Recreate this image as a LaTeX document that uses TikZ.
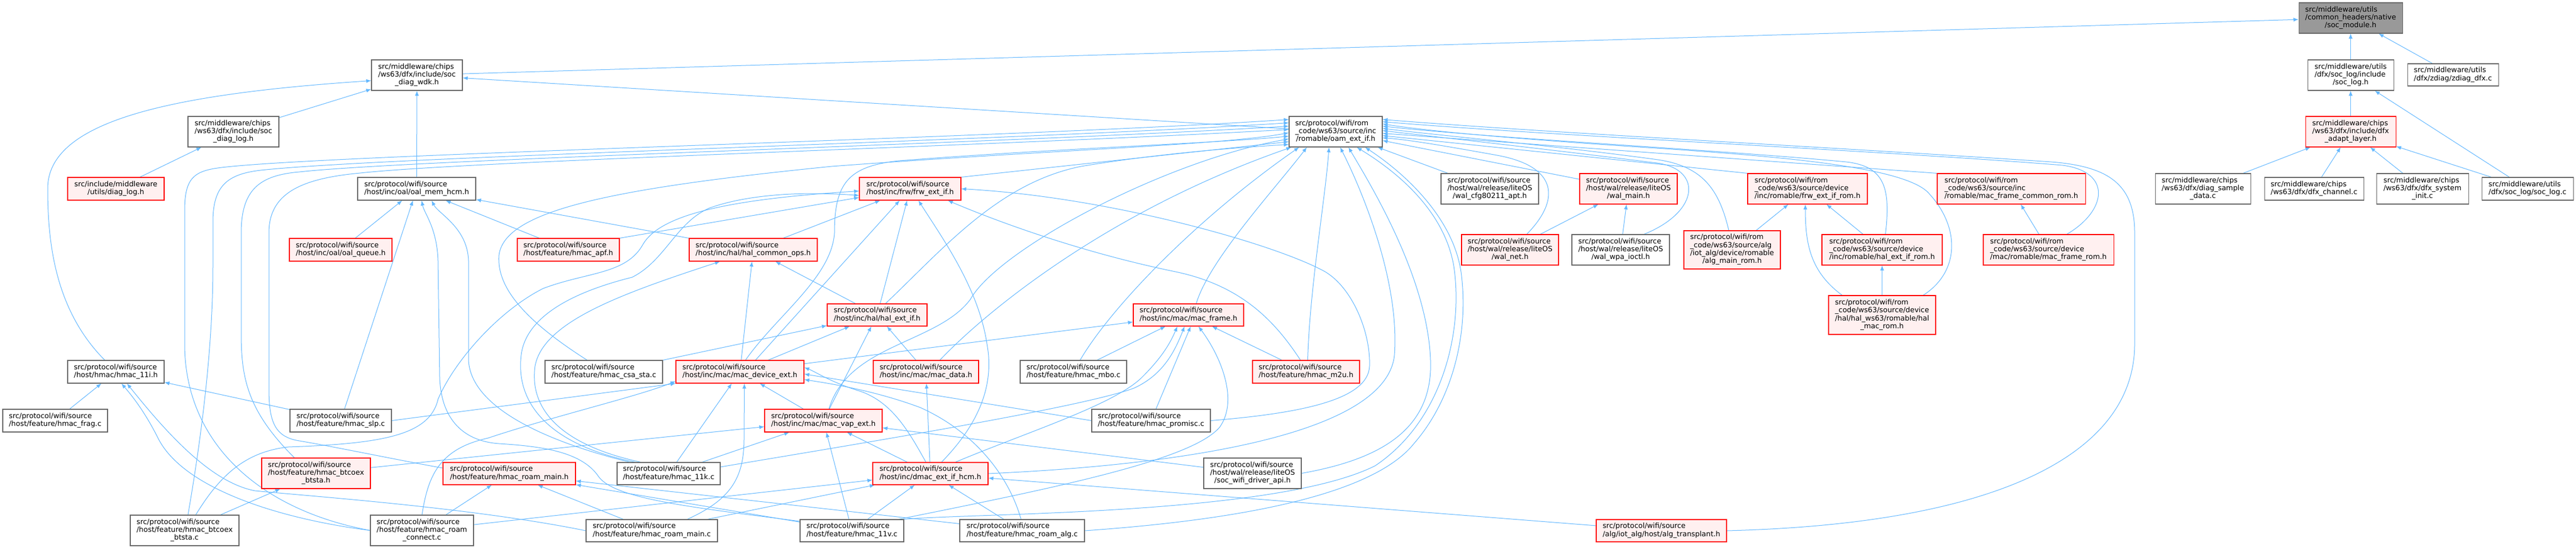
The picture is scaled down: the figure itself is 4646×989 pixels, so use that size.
\documentclass[tikz,border=0pt]{standalone}
\usepackage{fontspec}
\setmainfont{DejaVu Sans}
\usetikzlibrary{arrows.meta,backgrounds}
\definecolor{eblue}{HTML}{63B8FF}
\definecolor{ngray}{HTML}{666666}
\definecolor{pinkf}{HTML}{FFF0F0}
\definecolor{rootg}{HTML}{999999}
\newcommand{\dxf}{\fontsize{12.9pt}{14.3pt}\selectfont}
\newcommand{\NLab}[2]{\begin{tabular}{@{}l@{}}#1\\\multicolumn{1}{@{}c@{}}{#2}\end{tabular}}
\newcommand{\WS}{src/protocol/wifi/source}
\newcommand{\WR}{src/protocol/wifi/rom}
\tikzset{
  nd/.style={draw=ngray, fill=white, line width=1.1pt, inner sep=0pt, font=\dxf},
  rd/.style={nd, draw=red, fill=pinkf},
  rt/.style={nd, fill=rootg},
  wh/.style 2 args={minimum width=#1pt, minimum height=#2pt},
  edg/.style={draw=eblue, line width=1pt, -{Latex[length=9pt,width=7pt]}},
}
\begin{document}
\begin{tikzpicture}[x=1pt,y=-1pt]
\useasboundingbox (0,0) rectangle (4646,989);
% ---------------- nodes ----------------
\node[rt, wh={187}{55}] (root) at (4239.5,32.5) {\NLab{src/middleware/utils\\/common\_headers/native}{/soc\_module.h}};
\node[nd, wh={164}{55}] (wdk) at (752,135.5) {\NLab{src/middleware/chips\\/ws63/dfx/include/soc}{\_diag\_wdk.h}};
\node[nd, wh={155}{55}] (soclogh) at (4239.5,135.5) {\NLab{src/middleware/utils\\/dfx/soc\_log/include}{/soc\_log.h}};
\node[nd, wh={164}{40}] (zdiag) at (4424,135) {\NLab{src/middleware/utils}{/dfx/zdiag/zdiag\_dfx.c}};
\node[nd, wh={164}{55}] (diaglogsoc) at (421,237.5) {\NLab{src/middleware/chips\\/ws63/dfx/include/soc}{\_diag\_log.h}};
\node[nd, wh={168}{55}] (oam) at (2409,237.5) {\NLab{\WR\\\_code/ws63/source/inc}{/romable/oam\_ext\_if.h}};
\node[rd, wh={163}{55}] (dfxadapt) at (4239.5,237.5) {\NLab{src/middleware/chips\\/ws63/dfx/include/dfx}{\_adapt\_layer.h}};
\node[rd, wh={174}{41}] (diaglog) at (209,340.5) {\NLab{src/include/middleware}{/utils/diag\_log.h}};
\node[nd, wh={213}{41}] (oalmem) at (751.5,340.5) {\NLab{\WS}{/host/inc/oal/oal\_mem\_hcm.h}};
\node[rd, wh={183}{41}] (frw) at (1641.5,340.5) {\NLab{\WS}{/host/inc/frw/frw\_ext\_if.h}};
\node[nd, wh={176}{55}] (walcfg) at (2687,340.5) {\NLab{\WS\\/host/wal/release/liteOS}{/wal\_cfg80211\_apt.h}};
\node[rd, wh={176}{55}] (walmain) at (2937,340.5) {\NLab{\WS\\/host/wal/release/liteOS}{/wal\_main.h}};
\node[rd, wh={216}{55}] (frwrom) at (3260,340.5) {\NLab{\WR\\\_code/ws63/source/device}{/inc/romable/frw\_ext\_if\_rom.h}};
\node[rd, wh={267}{55}] (mfcrom) at (3627.5,340.5) {\NLab{\WR\\\_code/ws63/source/inc}{/romable/mac\_frame\_common\_rom.h}};
\node[nd, wh={172}{55}] (diagsample) at (3973,340.5) {\NLab{src/middleware/chips\\/ws63/dfx/diag\_sample}{\_data.c}};
\node[nd, wh={179}{41}] (dfxchan) at (4173.5,340.5) {\NLab{src/middleware/chips}{/ws63/dfx/dfx\_channel.c}};
\node[nd, wh={166}{55}] (dfxsys) at (4369,340.5) {\NLab{src/middleware/chips\\/ws63/dfx/dfx\_system}{\_init.c}};
\node[nd, wh={165}{41}] (soclogc) at (4558.5,340.5) {\NLab{src/middleware/utils}{/dfx/soc\_log/soc\_log.c}};
\node[rd, wh={185}{41}] (oalqueue) at (614.5,450.5) {\NLab{\WS}{/host/inc/oal/oal\_queue.h}};
\node[rd, wh={184}{41}] (apf) at (1025,450.5) {\NLab{\WS}{/host/feature/hmac\_apf.h}};
\node[rd, wh={231}{41}] (halcom) at (1358.5,450.5) {\NLab{\WS}{/host/inc/hal/hal\_common\_ops.h}};
\node[rd, wh={175}{55}] (walnet) at (2723.5,450.5) {\NLab{\WS\\/host/wal/release/liteOS}{/wal\_net.h}};
\node[nd, wh={176}{55}] (walwpa) at (2923,450.5) {\NLab{\WS\\/host/wal/release/liteOS}{/wal\_wpa\_ioctl.h}};
\node[rd, wh={174}{69}] (algmainrom) at (3124,450.5) {\NLab{\WR\\\_code/ws63/source/alg\\/iot\_alg/device/romable}{/alg\_main\_rom.h}};
\node[rd, wh={217}{55}] (halifrom) at (3394.5,450.5) {\NLab{\WR\\\_code/ws63/source/device}{/inc/romable/hal\_ext\_if\_rom.h}};
\node[rd, wh={235}{55}] (mfrom) at (3694.5,450.5) {\NLab{\WR\\\_code/ws63/source/device}{/mac/romable/mac\_frame\_rom.h}};
\node[rd, wh={193}{70}] (halmacrom) at (3394.5,568) {\NLab{\WR\\\_code/ws63/source/device\\/hal/hal\_ws63/romable/hal}{\_mac\_rom.h}};
\node[rd, wh={180}{40}] (halext) at (1582,568) {\NLab{\WS}{/host/inc/hal/hal\_ext\_if.h}};
\node[rd, wh={199}{40}] (macframe) at (2143.5,568) {\NLab{\WS}{/host/inc/mac/mac\_frame.h}};
\node[nd, wh={174}{41}] (h11i) at (209,670.5) {\NLab{\WS}{/host/hmac/hmac\_11i.h}};
\node[nd, wh={212}{41}] (csa) at (1089,670.5) {\NLab{\WS}{/host/feature/hmac\_csa\_sta.c}};
\node[rd, wh={231}{41}] (macdev) at (1334.5,670.5) {\NLab{\WS}{/host/inc/mac/mac\_device\_ext.h}};
\node[rd, wh={190}{41}] (macdata) at (1670,670.5) {\NLab{\WS}{/host/inc/mac/mac\_data.h}};
\node[nd, wh={192}{41}] (mbo) at (1936,670.5) {\NLab{\WS}{/host/feature/hmac\_mbo.c}};
\node[rd, wh={193}{41}] (m2u) at (2355.5,670.5) {\NLab{\WS}{/host/feature/hmac\_m2u.h}};
\node[nd, wh={189}{41}] (frag) at (99.5,758.5) {\NLab{\WS}{/host/feature/hmac\_frag.c}};
\node[nd, wh={183}{41}] (slp) at (614.5,758.5) {\NLab{\WS}{/host/feature/hmac\_slp.c}};
\node[rd, wh={212}{41}] (macvap) at (1485,758.5) {\NLab{\WS}{/host/inc/mac/mac\_vap\_ext.h}};
\node[nd, wh={214}{41}] (promisc) at (2076,758.5) {\NLab{\WS}{/host/feature/hmac\_promisc.c}};
\node[rd, wh={196}{55}] (btstah) at (570,853.5) {\NLab{\WS\\/host/feature/hmac\_btcoex}{\_btsta.h}};
\node[nd, wh={176}{55}] (sdrv) at (2259,853.5) {\NLab{\WS\\/host/wal/release/liteOS}{/soc\_wifi\_driver\_api.h}};
\node[rd, wh={239}{40}] (roamh) at (918.5,854) {\NLab{\WS}{/host/feature/hmac\_roam\_main.h}};
\node[nd, wh={186}{40}] (h11k) at (1206,854) {\NLab{\WS}{/host/feature/hmac\_11k.c}};
\node[rd, wh={208}{40}] (dmac) at (1678,854) {\NLab{\WS}{/host/inc/dmac\_ext\_if\_hcm.h}};
\node[nd, wh={196}{55}] (btstac) at (333,956.5) {\NLab{\WS\\/host/feature/hmac\_btcoex}{\_btsta.c}};
\node[nd, wh={186}{55}] (roamconn) at (761,956.5) {\NLab{\WS\\/host/feature/hmac\_roam}{\_connect.c}};
\node[nd, wh={237}{40}] (roamc) at (1175.5,957) {\NLab{\WS}{/host/feature/hmac\_roam\_main.c}};
\node[nd, wh={187}{40}] (h11v) at (1536.5,957) {\NLab{\WS}{/host/feature/hmac\_11v.c}};
\node[nd, wh={225}{40}] (roamalg) at (1843.5,957) {\NLab{\WS}{/host/feature/hmac\_roam\_alg.c}};
\node[rd, wh={235}{40}] (algtrans) at (2996.5,957) {\NLab{\WS}{/alg/iot\_alg/host/alg\_transplant.h}};
% ---------------- edges ----------------
\begin{scope}[on background layer]
\fill[white] (0,0) rectangle (4646,989);
% root / dfx
\draw[edg] (wdk) -- (root);
\draw[edg] (soclogh) -- (root);
\draw[edg] (zdiag) -- (root);
\draw[edg] (dfxadapt) -- (soclogh);
\draw[edg] (soclogc) -- (soclogh);
\draw[edg] (diagsample) -- (dfxadapt);
\draw[edg] (dfxchan) -- (dfxadapt);
\draw[edg] (dfxsys) -- (dfxadapt);
\draw[edg] (soclogc) -- (dfxadapt);
% soc_diag_wdk
\draw[edg] (diaglogsoc) -- (wdk);
\draw[edg] ([xshift=-20pt]h11i.north) .. controls (100,560) and (86,440) .. (86,340) .. controls (86,220) and (300,170) .. ([yshift=-10pt]wdk.west);
\draw[edg] (oalmem) -- (wdk);
\draw[edg] (oam) -- (wdk);
\draw[edg] (diaglog) -- (diaglogsoc);
% oal_mem_hcm
\draw[edg] (oalqueue) -- (oalmem);
\draw[edg] (apf) -- (oalmem);
\draw[edg] (halcom.north west) -- (oalmem);
\draw[edg] (slp) -- (oalmem);
\draw[edg] ([xshift=-70pt]h11k.north) .. controls (1000,800) and (850,740) .. (845,650) -- (845,470) .. controls (843,410) and (790,385) .. ([xshift=27pt]oalmem.south);
\draw[edg] ([yshift=17pt]h11v.west) .. controls (1250,915) and (1110,900) .. (1080,860) .. controls (1050,815) and (980,805) .. (900,800) .. controls (830,795) and (795,750) .. (793,680) -- (790,470) .. controls (788,410) and (765,385) .. ([xshift=9pt]oalmem.south);
% frw_ext_if
\draw[edg] (apf.north east) -- (frw);
\draw[edg] ([xshift=20pt]btstac.north) .. controls (395,860) and (440,815) .. (520,806) .. controls (690,800) and (775,785) .. (790,720) .. controls (820,650) and (900,560) .. (980,520) .. controls (1060,490) and (1130,495) .. (1160,440) .. controls (1190,390) and (1300,360) .. ([yshift=-4pt]frw.west);
\draw[edg] ([xshift=-60pt]h11k.north) .. controls (980,800) and (930,720) .. (940,640) .. controls (950,560) and (1060,520) .. (1140,500) .. controls (1200,470) and (1220,400) .. (1280,375) .. controls (1350,350) and (1450,345) .. ([yshift=-12pt]frw.west);
\draw[edg] (halcom) -- (frw);
\draw[edg] (halext) -- (frw);
\draw[edg] ([xshift=28pt]macdev.north) -- (frw);
\draw[edg] ([xshift=20pt]dmac.north) .. controls (1760,770) and (1795,700) .. (1780,620) .. controls (1765,520) and (1700,430) .. ([xshift=15pt]frw.south);
\draw[edg] ([xshift=-10pt]m2u.north) .. controls (2300,580) and (2240,515) .. (2120,490) .. controls (1950,455) and (1800,400) .. ([xshift=68pt]frw.south);
\draw[edg] (promisc.east) .. controls (2350,745) and (2468,720) .. (2470,660) .. controls (2472,600) and (2440,520) .. (2390,490) .. controls (2300,440) and (2000,355) .. (frw.east);
% hal_common_ops
\draw[edg] (halext) -- (halcom);
\draw[edg] (macdev) -- (halcom);
\draw[edg] ([xshift=-50pt]h11k.north) .. controls (1000,800) and (955,730) .. (965,660) .. controls (980,580) and (1120,530) .. ([xshift=-60pt]halcom.south);
% hal_ext_if
\draw[edg] (csa.north east) -- (halext);
\draw[edg] (macdev) -- (halext);
\draw[edg] (macvap) -- (halext);
\draw[edg] (macdata) -- (halext);
% mac_device_ext
\draw[edg] (macvap) -- (macdev);
\draw[edg] (h11k) -- (macdev);
\draw[edg] ([xshift=64pt]roamc.north) .. controls (1320,900) and (1342,860) .. (1342,790) -- ([xshift=8pt]macdev.south);
\draw[edg] (slp.east) -- (macdev.south west);
\draw[edg] (roamconn.north) .. controls (772,860) and (790,810) .. (880,790) .. controls (1000,750) and (1150,715) .. ([yshift=-17pt]macdev.west);
\draw[edg] (promisc.west) -- ([yshift=-4pt]macdev.east);
\draw[edg] ([xshift=-2pt]roamalg.north) .. controls (1820,860) and (1760,780) .. (1660,735) .. controls (1580,705) and (1500,692) .. ([yshift=-14pt]macdev.east);
\draw[edg] ([xshift=-8pt]dmac.north) .. controls (1640,780) and (1610,725) .. (1550,705) .. controls (1500,690) and (1470,670) .. ([yshift=8pt]macdev.east);
% mac_frame
\draw[edg] (macdev) -- (macframe);
\draw[edg] ([xshift=45pt]dmac.north) .. controls (1850,780) and (2010,730) .. (2060,680) .. controls (2095,645) and (2110,620) .. ([xshift=-20pt]macframe.south);
\draw[edg] (mbo) -- (macframe);
\draw[edg] (promisc) -- ([xshift=4pt]macframe.south);
\draw[edg] (m2u) -- (macframe);
\draw[edg] ([xshift=-10pt]h11v.north east) .. controls (1900,880) and (2150,830) .. (2200,770) .. controls (2235,720) and (2200,640) .. ([xshift=18pt]macframe.south);
\draw[edg] ([yshift=12pt]h11k.east) .. controls (1550,800) and (1950,735) .. (2045,700) .. controls (2100,675) and (2120,630) .. ([xshift=-7pt]macframe.south);
% mac_data
\draw[edg] (dmac) -- (macdata);
% mac_vap_ext
\draw[edg] (h11k) -- (macvap);
\draw[edg] (h11v) -- (macvap);
\draw[edg] (dmac) -- (macvap);
\draw[edg] (sdrv) -- (macvap);
\draw[edg] (btstah) -- (macvap);
% dmac_ext_if_hcm
\draw[edg] (h11v) -- (dmac);
\draw[edg] (roamalg) -- (dmac);
\draw[edg] (roamconn) -- (dmac);
\draw[edg] (roamc) -- (dmac);
\draw[edg] (algtrans) -- (dmac);
% hmac_roam_main.h
\draw[edg] (roamconn) -- (roamh);
\draw[edg] (roamc) -- (roamh);
\draw[edg] (h11v) -- (roamh);
\draw[edg] (roamalg) -- (roamh);
% btcoex / 11i
\draw[edg] (btstac) -- (btstah);
\draw[edg] (frag) -- (h11i);
\draw[edg] (slp) -- (h11i);
\draw[edg] (roamconn.west) .. controls (500,935) and (330,880) .. (285,790) .. controls (260,740) and (235,710) .. ([xshift=10pt]h11i.south);
\draw[edg] (roamc.west) .. controls (850,915) and (560,895) .. (460,885) .. controls (380,870) and (300,780) .. ([xshift=20pt]h11i.south);
% oam_ext_if : from the left
\draw[edg] (roamconn.west) .. controls (470,920) and (333,800) .. (333,620) -- (333,380) .. controls (333,320) and (350,308) .. (400,302) .. controls (600,278) and (1800,250) .. ([yshift=22pt]oam.west);
\draw[edg] ([xshift=6pt]btstac.north) .. controls (370,750) and (384,600) .. (384,480) -- (384,400) .. controls (384,335) and (410,314) .. (470,307) .. controls (700,282) and (1800,255) .. ([yshift=16pt]oam.west);
\draw[edg] ([xshift=-39pt]btstah.north) .. controls (445,740) and (435,680) .. (435,600) -- (435,420) .. controls (435,340) and (470,316) .. (540,310) .. controls (750,287) and (1800,259) .. ([yshift=10pt]oam.west);
\draw[edg] ([yshift=10pt]roamh.west) .. controls (720,830) and (600,805) .. (540,795) .. controls (495,788) and (485,760) .. (485,700) -- (485,420) .. controls (485,350) and (540,322) .. (650,312) .. controls (850,290) and (1800,263) .. ([yshift=4pt]oam.west);
\draw[edg] ([xshift=-30pt]csa.north) .. controls (950,580) and (895,520) .. (900,460) .. controls (910,380) and (1100,340) .. (1500,300) .. controls (1900,270) and (2200,262) .. ([yshift=-2pt]oam.west);
\draw[edg] ([xshift=10pt]macdev.north) .. controls (1400,570) and (1500,500) .. (1505,420) .. controls (1505,330) and (1530,300) .. (1620,290) .. controls (1900,268) and (2200,258) .. ([yshift=-8pt]oam.west);
\draw[edg] ([xshift=10pt]macvap.north) .. controls (1530,620) and (1690,620) .. (1750,540) .. controls (1800,450) and (2100,290) .. ([yshift=-13pt]oam.west);
\draw[edg] (frw.north east) -- ([yshift=-18pt]oam.west);
\draw[edg] ([xshift=15pt]halext.north) .. controls (1700,450) and (1800,330) .. (1950,300) .. controls (2100,275) and (2250,265) .. ([yshift=-23pt]oam.west);
% oam_ext_if : from below
\draw[edg] ([xshift=25pt]macdata.north) .. controls (1780,560) and (2000,380) .. ([xshift=-80pt]oam.south);
\draw[edg] ([xshift=12pt]mbo.north) .. controls (2000,560) and (2150,400) .. ([xshift=-66pt]oam.south);
\draw[edg] ([xshift=14pt]macframe.north) .. controls (2180,470) and (2300,340) .. ([xshift=-52pt]oam.south);
\draw[edg] ([xshift=3pt]m2u.north) .. controls (2362,520) and (2390,360) .. ([xshift=-12pt]oam.south);
\draw[edg] (dmac.east) .. controls (2100,840) and (2500,790) .. (2515,640) .. controls (2525,500) and (2450,330) .. ([xshift=8pt]oam.south);
\draw[edg] (sdrv.east) .. controls (2480,830) and (2585,780) .. (2580,650) .. controls (2575,500) and (2470,330) .. ([xshift=23pt]oam.south);
\draw[edg] (h11v.north east) .. controls (1750,925) and (2300,930) .. (2480,840) .. controls (2600,760) and (2640,600) .. (2622,480) .. controls (2605,380) and (2520,310) .. ([xshift=38pt]oam.south);
\draw[edg] (roamalg.east) .. controls (2200,940) and (2470,900) .. (2550,800) .. controls (2620,720) and (2650,600) .. (2635,490) .. controls (2620,390) and (2530,310) .. ([xshift=53pt]oam.south);
% oam_ext_if : from the right
\draw[edg] (walcfg) -- (oam);
\draw[edg] (walmain) -- ([yshift=-16pt]oam.east);
\draw[edg] ([xshift=30pt]walnet.north) .. controls (2815,360) and (2810,300) .. (2700,280) .. controls (2600,262) and (2540,252) .. ([yshift=-11pt]oam.east);
\draw[edg] ([xshift=42pt]walwpa.north) .. controls (3070,380) and (3070,300) .. (2980,293) .. controls (2800,270) and (2600,248) .. ([yshift=2pt]oam.east);
\draw[edg] ([xshift=-6pt]algmainrom.north) .. controls (3100,340) and (3070,300) .. (2990,288) .. controls (2800,262) and (2600,245) .. ([yshift=6pt]oam.east);
\draw[edg] (frwrom.north west) -- ([yshift=-7pt]oam.east);
\draw[edg] (mfcrom.north west) -- ([yshift=-3pt]oam.east);
\draw[edg] ([xshift=6pt]halifrom.north) .. controls (3410,340) and (3400,300) .. (3330,292) .. controls (3100,270) and (2700,250) .. ([yshift=10pt]oam.east);
\draw[edg] ([xshift=74pt]halmacrom.north) .. controls (3535,490) and (3535,410) .. (3480,350) .. controls (3440,300) and (3200,282) .. (3000,268) .. controls (2800,255) and (2600,240) .. ([yshift=14pt]oam.east);
\draw[edg] ([xshift=33pt]mfrom.north) .. controls (3800,380) and (3810,310) .. (3720,298) .. controls (3400,272) and (2800,245) .. ([yshift=18pt]oam.east);
\draw[edg] (algtrans.east) .. controls (3600,945) and (3850,820) .. (3850,620) -- (3850,420) .. controls (3850,330) and (3800,300) .. (3700,292) .. controls (3300,265) and (2800,240) .. ([yshift=22pt]oam.east);
% wal / rom
\draw[edg] (walnet) -- (walmain);
\draw[edg] (walwpa) -- (walmain);
\draw[edg] (algmainrom) -- (frwrom);
\draw[edg] (halifrom) -- (frwrom);
\draw[edg] ([xshift=-72pt]halmacrom.north) .. controls (3265,490) and (3256,440) .. ([xshift=-4pt]frwrom.south);
\draw[edg] (halmacrom) -- (halifrom);
\draw[edg] (mfrom) -- (mfcrom);
\end{scope}
\end{tikzpicture}
\end{document}
